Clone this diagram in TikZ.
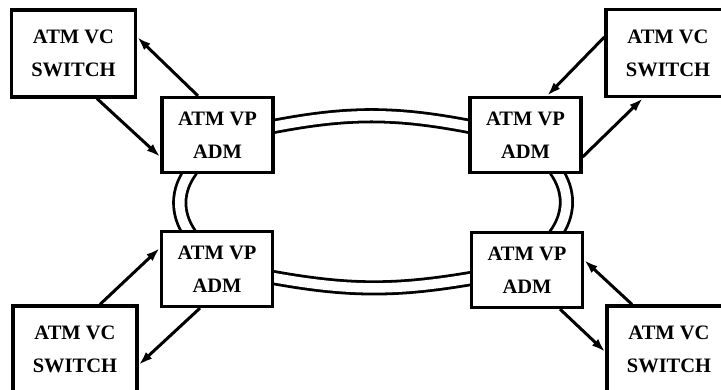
\documentclass[tikz,border=0pt]{standalone}
\usepackage{fontspec}
\setmainfont{Liberation Serif}
\usetikzlibrary{arrows.meta,calc,backgrounds}
\begin{document}
\begin{tikzpicture}[x=1pt,y=1pt,
  box/.style={draw=black,line width=3.2pt,fill=white,inner sep=0pt,
    align=center,font=\fontsize{20.5}{33}\selectfont\bfseries},
  vcbox/.style={box,minimum width=124pt,minimum height=87pt},
  vpbox/.style={box,minimum width=111pt,minimum height=75pt},
  link/.style={line width=3pt,-{Latex[length=14pt,width=9pt]}},
  ring/.style={double,double distance=9.5pt,line width=2.8pt}]
\useasboundingbox (0,0) rectangle (721,389);
\clip (0,0) rectangle (721,389);

% ATM VP add-drop multiplexers on the ring
\node[vpbox] (vp1) at (217.5,254) {ATM VP\\ADM};
\node[vpbox] (vp2) at (525.5,254) {ATM VP\\ADM};
\node[vpbox] (vp3) at (217,120)   {ATM VP\\ADM};
\node[vpbox] (vp4) at (527,119)   {ATM VP\\ADM};

% ATM VC switches at the corners
\node[vcbox] (vc1) at (73.5,335.5) {ATM VC\\SWITCH};
\node[vcbox] (vc2) at (668,336)    {ATM VC\\SWITCH};
\node[vcbox] (vc3) at (75,39.5)    {ATM VC\\SWITCH};
\node[vcbox] (vc4) at (669,39.5)   {ATM VC\\SWITCH};

% double-line ring between the multiplexers, behind the boxes
\begin{scope}[on background layer]
\draw[ring] ($(vp1.east)+(-4,8)$) to[bend left=11] ($(vp2.west)+(4,8)$);
\draw[ring] ($(vp3.east)+(-4,-8)$) to[bend right=10] ($(vp4.west)+(4,-8)$);
\draw[ring] ($(vp1.south)+(-26,4)$) to[bend right=36] ($(vp3.north)+(-27,-4)$);
\draw[ring] ($(vp2.south)+(30,4)$) to[bend left=36] ($(vp4.north)+(28,-4)$);
\end{scope}

% add/drop links between switches and multiplexers
\draw[link] ($(vp1.north)+(-19.5,0)$) -- ($(vc1.east)+(0,16.5)$);
\draw[link] ($(vc1.south)+(23.5,0)$) -- ($(vp1.west)+(0,-22)$);
\draw[link] ($(vc2.west)+(0,16)$) -- ($(vp2.north)+(21.5,0)$);
\draw[link] ($(vp2.east)+(0,-22)$) -- ($(vc2.south)+(-25,0)$);
\draw[link] ($(vc3.north)+(25,0)$) -- ($(vp3.west)+(0,21)$);
\draw[link] ($(vp3.south)+(-17,0)$) -- ($(vc3.east)+(0,-15.5)$);
\draw[link] ($(vc4.north)+(-37,0)$) -- ($(vp4.east)+(0,10)$);
\draw[link] ($(vp4.south)+(33,0)$) -- ($(vc4.west)+(0,-2.5)$);
\end{tikzpicture}
\end{document}
